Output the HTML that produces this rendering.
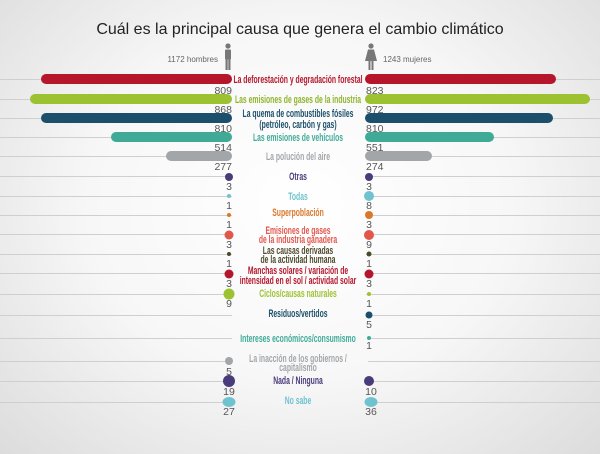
<!DOCTYPE html>
<html><head><meta charset="utf-8"><style>
html,body{margin:0;padding:0}
body{width:600px;height:454px;overflow:hidden;background:radial-gradient(ellipse at 50% 45%,#ffffff 0%,#f7f7f7 50%,#dcdcdc 100%);}
svg{display:block}
.l{font-family:"Liberation Sans",sans-serif;font-size:11px;text-anchor:middle;font-weight:bold}
.n{font-family:"Liberation Sans",sans-serif;font-size:10.5px;fill:#555}
</style></head><body>
<svg width="600" height="454" xmlns="http://www.w3.org/2000/svg">
<text x="300" y="34" text-anchor="middle" font-family="Liberation Sans,sans-serif" font-size="16" fill="#222">Cuál es la principal causa que genera el cambio climático</text>
<text x="218" y="62" text-anchor="end" font-family="Liberation Sans,sans-serif" font-size="8" fill="#666">1172 hombres</text>
<text x="383" y="62" font-family="Liberation Sans,sans-serif" font-size="8" fill="#666">1243 mujeres</text>
<g fill="#777">
<circle cx="228" cy="46" r="2.6"/><rect x="225" y="49.5" width="6" height="10" rx="1"/><rect x="225.5" y="59" width="2.2" height="11"/><rect x="228.3" y="59" width="2.2" height="11"/>
<circle cx="371" cy="46" r="2.6"/><polygon points="368,49.5 374,49.5 377,61 365,61"/><rect x="368.5" y="60" width="2" height="10"/><rect x="371.5" y="60" width="2" height="10"/>
</g>
<g stroke="#cfcfcf" stroke-width="1">
<line x1="0" x2="232" y1="79.5" y2="79.5"/><line x1="366" x2="600" y1="79.5" y2="79.5"/>
<line x1="0" x2="232" y1="99.5" y2="99.5"/><line x1="366" x2="600" y1="99.5" y2="99.5"/>
<line x1="0" x2="232" y1="118.5" y2="118.5"/><line x1="366" x2="600" y1="118.5" y2="118.5"/>
<line x1="0" x2="232" y1="137.5" y2="137.5"/><line x1="366" x2="600" y1="137.5" y2="137.5"/>
<line x1="0" x2="232" y1="156.5" y2="156.5"/><line x1="366" x2="600" y1="156.5" y2="156.5"/>
<line x1="0" x2="232" y1="176.5" y2="176.5"/><line x1="366" x2="600" y1="176.5" y2="176.5"/>
<line x1="0" x2="232" y1="196.5" y2="196.5"/><line x1="366" x2="600" y1="196.5" y2="196.5"/>
<line x1="0" x2="232" y1="215.5" y2="215.5"/><line x1="366" x2="600" y1="215.5" y2="215.5"/>
<line x1="0" x2="232" y1="234.5" y2="234.5"/><line x1="366" x2="600" y1="234.5" y2="234.5"/>
<line x1="0" x2="232" y1="254.5" y2="254.5"/><line x1="366" x2="600" y1="254.5" y2="254.5"/>
<line x1="0" x2="232" y1="273.5" y2="273.5"/><line x1="366" x2="600" y1="273.5" y2="273.5"/>
<line x1="0" x2="232" y1="294.5" y2="294.5"/><line x1="366" x2="600" y1="294.5" y2="294.5"/>
<line x1="0" x2="232" y1="315.5" y2="315.5"/><line x1="368" x2="600" y1="315.5" y2="315.5"/>
<line x1="0" x2="232" y1="338.5" y2="338.5"/><line x1="368" x2="600" y1="338.5" y2="338.5"/>
<line x1="0" x2="232" y1="361.5" y2="361.5"/><line x1="368" x2="600" y1="361.5" y2="361.5"/>
<line x1="0" x2="232" y1="381.5" y2="381.5"/><line x1="368" x2="600" y1="381.5" y2="381.5"/>
<line x1="0" x2="232" y1="402.5" y2="402.5"/><line x1="368" x2="600" y1="402.5" y2="402.5"/>
</g>
<rect x="41" y="74" width="191" height="10" rx="5" fill="#b5162b"/><rect x="365" y="74" width="191" height="10" rx="5" fill="#b5162b"/>
<rect x="30" y="94" width="202" height="10" rx="5" fill="#9dc231"/><rect x="365" y="94" width="225" height="10" rx="5" fill="#9dc231"/>
<rect x="41" y="113" width="191" height="10" rx="5" fill="#1b4f6b"/><rect x="365" y="113" width="188" height="10" rx="5" fill="#1b4f6b"/>
<rect x="111" y="132" width="121" height="10" rx="5" fill="#3fab97"/><rect x="365" y="132" width="129" height="10" rx="5" fill="#3fab97"/>
<rect x="166" y="151" width="66" height="10" rx="5" fill="#a3a6a9"/><rect x="365" y="151" width="67" height="10" rx="5" fill="#a3a6a9"/>
<circle cx="229" cy="177" r="4" fill="#4a3b7a"/><circle cx="369" cy="177" r="4" fill="#4a3b7a"/>
<circle cx="229" cy="196" r="2" fill="#6fc3cf"/><circle cx="369" cy="196" r="5" fill="#6fc3cf"/>
<circle cx="229" cy="215" r="2" fill="#d9782a"/><circle cx="369" cy="215" r="4" fill="#d9782a"/>
<circle cx="229" cy="235" r="4.5" fill="#e2574c"/><circle cx="369" cy="235" r="5" fill="#e2574c"/>
<circle cx="229" cy="254" r="2" fill="#4d4a2a"/><circle cx="369" cy="254" r="2.5" fill="#4d4a2a"/>
<circle cx="229" cy="274" r="4.5" fill="#b5162b"/><circle cx="369" cy="274" r="4.5" fill="#b5162b"/>
<circle cx="229" cy="294" r="5.5" fill="#9dc231"/><circle cx="369" cy="294" r="2" fill="#9dc231"/>
<circle cx="369" cy="315" r="3.5" fill="#1b4f6b"/>
<circle cx="369" cy="338" r="2" fill="#3fab97"/>
<circle cx="229" cy="361" r="4" fill="#a3a6a9"/>
<circle cx="229" cy="381" r="6" fill="#4a3b7a"/><circle cx="369" cy="381" r="5" fill="#4a3b7a"/>
<ellipse cx="229" cy="402" rx="6.5" ry="5" fill="#6fc3cf"/><ellipse cx="371" cy="402" rx="6.5" ry="5" fill="#6fc3cf"/>
<g class="n">
<text x="232" y="94" text-anchor="end">809</text><text x="366" y="94">823</text>
<text x="232" y="113" text-anchor="end">868</text><text x="366" y="113">972</text>
<text x="232" y="132" text-anchor="end">810</text><text x="366" y="132">810</text>
<text x="232" y="151" text-anchor="end">514</text><text x="366" y="151">551</text>
<text x="232" y="170" text-anchor="end">277</text><text x="366" y="170">274</text>
<text x="229" y="190" text-anchor="middle">3</text><text x="369" y="190" text-anchor="middle">3</text>
<text x="229" y="209" text-anchor="middle">1</text><text x="369" y="209" text-anchor="middle">8</text>
<text x="229" y="228" text-anchor="middle">1</text><text x="369" y="228" text-anchor="middle">3</text>
<text x="229" y="248" text-anchor="middle">3</text><text x="369" y="248" text-anchor="middle">9</text>
<text x="229" y="267" text-anchor="middle">1</text><text x="369" y="267" text-anchor="middle">1</text>
<text x="229" y="287" text-anchor="middle">3</text><text x="369" y="287" text-anchor="middle">3</text>
<text x="229" y="307" text-anchor="middle">9</text><text x="369" y="307" text-anchor="middle">1</text>
<text x="369" y="328" text-anchor="middle">5</text>
<text x="369" y="349" text-anchor="middle">1</text>
<text x="229" y="375" text-anchor="middle">5</text>
<text x="229" y="395" text-anchor="middle">19</text><text x="371" y="395" text-anchor="middle">10</text>
<text x="229" y="415" text-anchor="middle">27</text><text x="371" y="415" text-anchor="middle">36</text>
</g>
<g class="l" transform="translate(298,0) scale(0.62,1)">
<text x="0" y="83" fill="#b5162b">La deforestación y degradación forestal</text>
<text x="0" y="103" fill="#8fb52a">Las emisiones de gases de la industria</text>
<text x="0" y="117" fill="#1b4f6b">La quema de combustibles fósiles</text>
<text x="0" y="128" fill="#1b4f6b">(petróleo, carbón y gas)</text>
<text x="0" y="141" fill="#3fab97">Las emisiones de vehículos</text>
<text x="0" y="160" fill="#a3a6a9">La polución del aire</text>
<text x="0" y="180" fill="#4a3b7a">Otras</text>
<text x="0" y="200" fill="#6fc3cf">Todas</text>
<text x="0" y="216" fill="#d9782a">Superpoblación</text>
<text x="0" y="234" fill="#e2574c">Emisiones de gases</text>
<text x="0" y="243" fill="#e2574c">de la industria ganadera</text>
<text x="0" y="254" fill="#4d4a2a">Las causas derivadas</text>
<text x="0" y="263" fill="#4d4a2a">de la actividad humana</text>
<text x="0" y="274" fill="#b5162b">Manchas solares / variación de</text>
<text x="0" y="284" fill="#b5162b">intensidad en el sol / actividad solar</text>
<text x="0" y="297" fill="#9dc231">Ciclos/causas naturales</text>
<text x="0" y="317" fill="#1b4f6b">Residuos/vertidos</text>
<text x="0" y="342" fill="#3fab97">Intereses económicos/consumismo</text>
<text x="0" y="362" fill="#a3a6a9">La inacción de los gobiernos /</text>
<text x="0" y="371" fill="#a3a6a9">capitalismo</text>
<text x="0" y="384" fill="#4a3b7a">Nada / Ninguna</text>
<text x="0" y="404" fill="#6fc3cf">No sabe</text>
</g>
</svg>
</body></html>
